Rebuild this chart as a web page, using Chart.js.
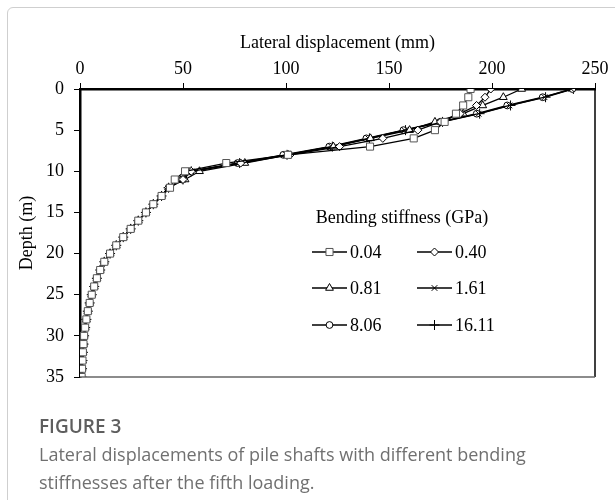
<!DOCTYPE html>
<html>
<head>
<meta charset="utf-8">
<title>Lateral displacement of pile shafts</title>
<script src="https://cdn.jsdelivr.net/npm/chart.js@4.4.1/dist/chart.umd.min.js"></script>
<style>
  html, body { margin: 0; padding: 0; background: #fff; }
  #wrap { position: relative; width: 615px; height: 500px; overflow: hidden; }
  #frame {
    position: absolute; left: 7px; top: 7px; width: 660px; height: 560px;
    border: 1px solid #cfcfcf; border-radius: 6px; box-sizing: border-box;
  }
  #plot { position: absolute; left: 0; top: 0; }
  #caption {
    position: absolute; left: 39px; top: 412px; width: 548px;
    font-family: "Open Sans", "Noto Sans", sans-serif; color: #707070;
    font-size: 18px; line-height: 28px;
  }
  #caption b { display: block; font-weight: 600; color: #5e5e5e; font-size: 19px; }
</style>
</head>
<body>
<div id="wrap">
  <div id="frame"></div>
  <canvas id="plot" width="615" height="500"></canvas>
  <div id="caption">
    <b>FIGURE 3</b>
    Lateral displacements of pile shafts with different bending stiffnesses after the fifth loading.
  </div>
</div>
<script>
// depth below pile head (m)
const depths = [0, 1, 2, 3, 4, 5, 6, 7, 8, 9, 10, 11, 12, 13, 14, 15, 16, 17,
  18, 19, 20, 21, 22, 23, 24, 25, 26, 27, 28, 29, 30, 31, 32, 33, 34, 35];

// lateral displacement (mm) for each bending stiffness
const disp004 = [189.6, 188.5, 186, 182.5, 177, 172.3, 162, 140.8, 101, 71, 51, 46,
  43.7, 39.6, 35.6, 32, 28.3, 24.6, 21, 17.6, 14.6, 11.8, 9.8, 8.2, 6.9, 5.7, 4.7, 3.8,
  3.1, 2.5, 2.0, 1.7, 1.4, 1.2, 1.0, 0.8];
const disp040 = [199.4, 196.6, 192.5, 184.5, 175, 164, 147, 126, 102, 78, 54, 50,
  43, 39.6, 35.6, 32, 28.3, 24.6, 21, 17.6, 14.6, 11.8, 9.8, 8.2, 6.9, 5.7, 4.7, 3.8,
  3.1, 2.5, 2.0, 1.7, 1.4, 1.2, 1.0, 0.8];
const disp081 = [214.4, 205.5, 195.5, 186, 172.3, 160, 141, 123, 101, 80, 58, 51,
  43, 39.6, 35.6, 32, 28.3, 24.6, 21, 17.6, 14.6, 11.8, 9.8, 8.2, 6.9, 5.7, 4.7, 3.8,
  3.1, 2.5, 2.0, 1.7, 1.4, 1.2, 1.0, 0.8];
const disp161 = [238.5, 225.5, 208.5, 193.5, 175.5, 157.5, 140, 122, 100, 77, 54, 50,
  43, 39.6, 35.6, 32, 28.3, 24.6, 21, 17.6, 14.6, 11.8, 9.8, 8.2, 6.9, 5.7, 4.7, 3.8,
  3.1, 2.5, 2.0, 1.7, 1.4, 1.2, 1.0, 0.8];
const disp806 = [239, 224.6, 207.4, 192.6, 174.8, 157, 139, 121, 98.7, 76.5, 53, 49.5,
  43, 39.6, 35.6, 32, 28.3, 24.6, 21, 17.6, 14.6, 11.8, 9.8, 8.2, 6.9, 5.7, 4.7, 3.8,
  3.1, 2.5, 2.0, 1.7, 1.4, 1.2, 1.0, 0.8];
const disp1611 = [239.5, 226, 209, 194, 176, 158, 140.5, 122.5, 100.5, 77.5, 54, 50,
  43, 39.6, 35.6, 32, 28.3, 24.6, 21, 17.6, 14.6, 11.8, 9.8, 8.2, 6.9, 5.7, 4.7, 3.8,
  3.1, 2.5, 2.0, 1.7, 1.4, 1.2, 1.0, 0.8];

const seriesLabels = ['0.04', '0.40', '0.81', '1.61', '8.06', '16.11'];
const xTicks = [0, 50, 100, 150, 200, 250];
const yTicks = [0, 5, 10, 15, 20, 25, 30, 35];

const serif = '"Liberation Serif", "Times New Roman", serif';

const markers = [
  { style: 'rect', radius: 5, color: '#555' },
  { style: 'rectRot', radius: 4, color: '#000' },
  { style: 'triangle', radius: 4.5, color: '#000' },
  { style: 'crossRot', radius: 4, color: '#000' },
  { style: 'circle', radius: 3.4, color: '#000' },
  { style: 'cross', radius: 5, color: '#000' }
];

const allDisp = [disp004, disp040, disp081, disp161, disp806, disp1611];

const datasets = allDisp.map((vals, i) => ({
  label: seriesLabels[i],
  data: vals.map((v, k) => ({ x: v, y: depths[k] })),
  showLine: true,
  borderColor: '#000',
  borderWidth: 1.3,
  pointStyle: markers[i].style,
  pointRadius: markers[i].radius,
  pointBorderColor: markers[i].color,
  pointBackgroundColor: '#fff',
  pointBorderWidth: 1
}));

function drawMarker(ctx, m, x, y) {
  ctx.save();
  ctx.strokeStyle = m.color;
  ctx.fillStyle = '#fff';
  ctx.lineWidth = 1;
  Chart.helpers.drawPoint(ctx, { pointStyle: m.style, radius: m.radius, borderWidth: 1, rotation: 0 }, x, y);
  ctx.restore();
}

// right/bottom box edges plus the two-column legend inside the plot
const boxAndLegend = {
  id: 'boxAndLegend',
  afterDraw(chart) {
    const ctx = chart.ctx;
    const a = chart.chartArea;
    ctx.save();
    ctx.strokeStyle = '#000';
    ctx.lineWidth = 1.5;
    ctx.beginPath();
    ctx.moveTo(a.right, a.top);
    ctx.lineTo(a.right, a.bottom);
    ctx.stroke();
    ctx.strokeStyle = '#666';
    ctx.beginPath();
    ctx.moveTo(a.left, a.bottom);
    ctx.lineTo(a.right, a.bottom);
    ctx.stroke();

    ctx.fillStyle = '#000';
    ctx.font = '18px ' + serif;
    ctx.textBaseline = 'middle';
    ctx.textAlign = 'center';
    ctx.fillText('Bending stiffness (GPa)', 402, 218);

    ctx.textAlign = 'left';
    const cols = [312, 417];
    const rows = [252, 288, 325];
    seriesLabels.forEach((lab, i) => {
      const x0 = cols[i % 2];
      const y0 = rows[Math.floor(i / 2)];
      ctx.strokeStyle = '#000';
      ctx.lineWidth = 1.3;
      ctx.beginPath();
      ctx.moveTo(x0, y0);
      ctx.lineTo(x0 + 35, y0);
      ctx.stroke();
      drawMarker(ctx, markers[i], x0 + 17.5, y0);
      ctx.fillStyle = '#000';
      ctx.fillText(lab, x0 + 38, y0 + 1);
    });
    ctx.restore();
  }
};

new Chart(document.getElementById('plot'), {
  type: 'scatter',
  data: { datasets },
  options: {
    responsive: false,
    animation: false,
    layout: { padding: { left: 0, top: 0, right: 20, bottom: 123 } },
    plugins: { legend: { display: false }, tooltip: { enabled: false } },
    scales: {
      x: {
        type: 'linear',
        position: 'top',
        min: 0,
        max: 250,
        afterFit(scale) { scale.height = 89; },
        afterBuildTicks(scale) { scale.ticks = xTicks.map(v => ({ value: v })); },
        ticks: { color: '#000', font: { family: serif, size: 18 }, padding: 3 },
        grid: { drawOnChartArea: false, drawTicks: true, tickLength: 6, color: '#000', lineWidth: 1 },
        border: { display: true, color: '#000', width: 2.5 },
        title: {
          display: true,
          text: 'Lateral displacement (mm)',
          color: '#000',
          font: { family: serif, size: 18 },
          padding: { top: 32 }
        }
      },
      y: {
        type: 'linear',
        reverse: true,
        min: 0,
        max: 35,
        afterFit(scale) { scale.width = 80; },
        afterBuildTicks(scale) { scale.ticks = yTicks.map(v => ({ value: v })); },
        ticks: { color: '#000', font: { family: serif, size: 18 }, padding: 10 },
        grid: { drawOnChartArea: false, drawTicks: true, tickLength: 6, color: '#000', lineWidth: 1 },
        border: { display: true, color: '#000', width: 2.5 },
        title: {
          display: true,
          text: 'Depth (m)',
          color: '#000',
          font: { family: serif, size: 18 },
          padding: { top: 16 }
        }
      }
    }
  },
  plugins: [boxAndLegend]
});
</script>
</body>
</html>
